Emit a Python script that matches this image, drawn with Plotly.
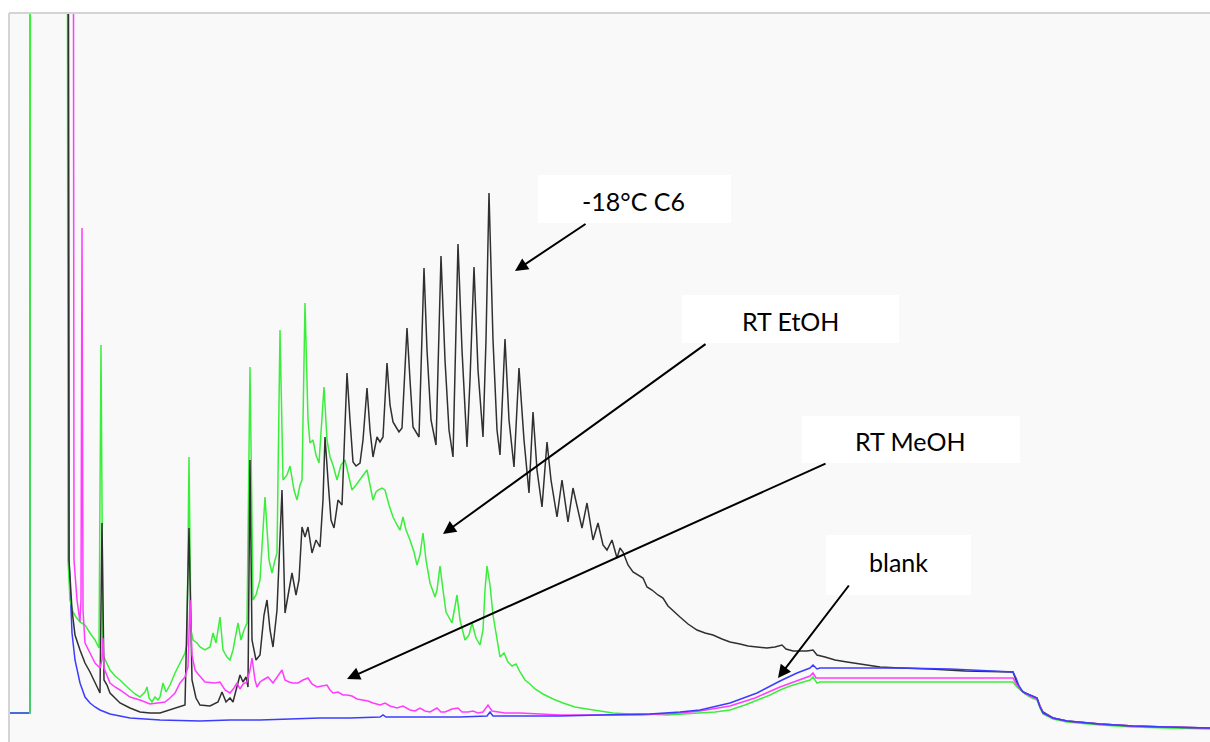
import plotly.graph_objects as go

# Chromatogram overlay: retention position (scan) vs detector response.
# Each series is a list of (scan, response) samples.
OFF_SCALE = 2400  # solvent front, far above the displayed range

sample_c6 = [
    (66, OFF_SCALE), (69, 182), (72, 132), (75, 107),
    (80, 92), (85, 79), (90, 70), (95, 59), (100, 49), (102, 219), (104, 62), (107, 57), (110, 49),
    (120, 39), (130, 34), (140, 30), (150, 29), (160, 29), (170, 32), (180, 35), (185, 37),
    (189, 214), (192, 62), (196, 44), (200, 37), (210, 36), (218, 40), (222, 50), (226, 40),
    (230, 44), (233, 40), (240, 67), (243, 60), (246, 65), (248, 55), (250, 282), (252, 102),
    (256, 82), (260, 87), (264, 127), (267, 142), (270, 112), (273, 95), (277, 132), (280, 202),
    (282, 252), (285, 129), (289, 152), (292, 169), (296, 147), (299, 162), (302, 215), (305, 205),
    (308, 215), (312, 189), (316, 202), (320, 195), (323, 242), (325, 305), (328, 262), (331, 222),
    (334, 214), (338, 242), (342, 237), (345, 312), (347, 369), (350, 322), (353, 280), (356, 276),
    (360, 279), (363, 302), (367, 354), (370, 312), (373, 285), (377, 305), (380, 300), (383, 305),
    (387, 379), (390, 337), (393, 320), (396, 315), (399, 310), (402, 314), (407, 414), (410, 362),
    (413, 315), (416, 310), (419, 305), (424, 474), (427, 392), (431, 322), (436, 297), (441, 486),
    (445, 382), (449, 312), (453, 285), (458, 498), (462, 392), (467, 295), (470, 362), (474, 475),
    (478, 372), (483, 305), (486, 402), (489, 549), (493, 402), (497, 312), (500, 287), (505, 403),
    (509, 322), (514, 275), (519, 374), (524, 302), (529, 249), (533, 330), (537, 272), (542, 235),
    (547, 300), (551, 262), (557, 225), (562, 262), (568, 220), (573, 254), (578, 232), (582, 214),
    (587, 239), (593, 202), (598, 219), (603, 197), (607, 192), (612, 202), (617, 184), (620, 194),
    (623, 190), (628, 177), (633, 170), (638, 167), (643, 164), (647, 155), (652, 152), (658, 147),
    (663, 144), (668, 136), (674, 130), (680, 125), (688, 118), (697, 112), (705, 109), (713, 107),
    (722, 103), (730, 100), (740, 98), (748, 96), (757, 95), (767, 94), (775, 95), (782, 97),
    (786, 93), (793, 91), (800, 91), (807, 91), (813, 92), (817, 87), (825, 85), (835, 82),
    (847, 80), (860, 78), (880, 75), (900, 74), (930, 73), (965, 71), (1000, 70), (1013, 70),
    (1017, 59), (1021, 52), (1025, 49), (1030, 47), (1037, 44), (1040, 36), (1043, 30), (1053, 24),
    (1067, 21), (1100, 18), (1133, 16), (1167, 15), (1210, 14),
]

rt_etoh = [
    (10, 29), (29, 29), (30, 29), (31, OFF_SCALE), (66, OFF_SCALE), (68, 182), (70, 142), (73, 130),
    (76, 125), (80, 120), (85, 117), (90, 109), (95, 102), (99, 94), (101, 397), (103, 87),
    (106, 80), (110, 72), (115, 66), (120, 62), (125, 57), (130, 52), (135, 48), (140, 45),
    (145, 50), (147, 55), (149, 44), (152, 40), (155, 45), (158, 42), (160, 45), (163, 59),
    (166, 50), (170, 57), (175, 69), (180, 79), (185, 89), (187, 97), (189, 285), (191, 112),
    (193, 102), (197, 99), (200, 95), (205, 92), (210, 95), (213, 109), (216, 99), (220, 125),
    (223, 92), (227, 85), (230, 82), (233, 92), (238, 119), (241, 102), (244, 112), (247, 119),
    (250, 375), (253, 142), (256, 147), (260, 162), (265, 245), (269, 182), (272, 169), (275, 182),
    (277, 189), (280, 412), (283, 262), (287, 267), (290, 276), (294, 252), (297, 242), (300, 257),
    (302, 262), (305, 439), (308, 322), (310, 299), (313, 302), (316, 287), (319, 279), (324, 355),
    (327, 302), (330, 285), (333, 277), (337, 262), (341, 277), (345, 282), (349, 264), (352, 252),
    (356, 257), (360, 262), (364, 268), (367, 272), (370, 257), (373, 242), (376, 250), (378, 252),
    (382, 254), (385, 252), (389, 237), (393, 225), (397, 217), (400, 212), (403, 225), (406, 212),
    (410, 202), (414, 190), (417, 177), (420, 187), (423, 209), (426, 182), (430, 159), (435, 145),
    (437, 152), (440, 176), (443, 152), (446, 130), (452, 119), (457, 147), (460, 122), (465, 102),
    (469, 107), (472, 119), (476, 104), (480, 97), (483, 112), (485, 152), (487, 176), (490, 157),
    (493, 127), (496, 107), (500, 85), (504, 89), (508, 80), (512, 76), (516, 78), (520, 70),
    (525, 62), (530, 58), (535, 53), (543, 48), (553, 43), (563, 39), (575, 35), (587, 33),
    (600, 31), (613, 29), (630, 28), (650, 28), (667, 27), (680, 28), (700, 29), (715, 30),
    (730, 32), (745, 37), (760, 43), (770, 47), (780, 52), (790, 56), (800, 59), (810, 62),
    (813, 65), (817, 59), (820, 60), (900, 60), (1000, 60), (1013, 60), (1017, 55), (1021, 51),
    (1025, 48), (1030, 45), (1037, 42), (1040, 34), (1043, 28), (1053, 23), (1067, 20), (1100, 17),
    (1133, 15), (1167, 14), (1210, 13),
]

rt_meoh = [
    (72, OFF_SCALE), (74, 182), (77, 142), (80, 120),
    (81, 142), (82, 514), (83, 132), (85, 99), (90, 89), (95, 79), (100, 74), (102, 82), (103, 104),
    (104, 74), (106, 69), (110, 59), (115, 55), (120, 52), (130, 45), (140, 42), (150, 38),
    (160, 39), (165, 40), (170, 44), (175, 49), (180, 59), (185, 65), (188, 75), (190, 142),
    (192, 87), (195, 72), (198, 68), (205, 60), (215, 59), (220, 60), (225, 52), (230, 49),
    (234, 54), (237, 59), (240, 53), (243, 58), (247, 60), (250, 72), (252, 84), (255, 62),
    (257, 55), (260, 60), (263, 62), (268, 65), (273, 59), (278, 66), (282, 72), (285, 62),
    (289, 60), (293, 59), (298, 59), (303, 62), (308, 64), (312, 58), (317, 55), (322, 56),
    (327, 57), (330, 52), (333, 49), (338, 50), (343, 47), (347, 47), (352, 46), (357, 43),
    (363, 42), (368, 41), (373, 39), (380, 37), (385, 39), (390, 36), (397, 34), (403, 36),
    (410, 32), (415, 31), (420, 34), (425, 31), (430, 30), (437, 34), (441, 30), (445, 30),
    (452, 33), (458, 34), (462, 30), (468, 30), (473, 31), (478, 29), (483, 30), (488, 37),
    (492, 31), (497, 30), (505, 29), (520, 29), (540, 28), (560, 27), (600, 27), (640, 27),
    (680, 29), (700, 31), (730, 36), (755, 44), (780, 55), (800, 62), (810, 66), (813, 69),
    (816, 64), (820, 64), (900, 64), (1000, 64), (1013, 64), (1017, 57), (1021, 52), (1025, 49),
    (1030, 46), (1037, 43), (1040, 35), (1043, 29), (1053, 24), (1067, 21), (1100, 18), (1133, 16),
    (1167, 15), (1210, 14),
]

# blank run: pre-injection baseline, solvent front, then the rest of the run
blank_base = [(10, 29), (29, 29)]
blank_front = [
    (29, 29), (30, 29), (31, OFF_SCALE), (67, OFF_SCALE), (69, 182), (72, 109), (75, 82),
    (78, 67), (80, 59),
]
blank = [
    (80, 59), (85, 45), (90, 39), (95, 35), (100, 32), (110, 28), (120, 26), (130, 24),
    (145, 23), (160, 22), (200, 21), (230, 22), (260, 22), (290, 23), (320, 24), (350, 24),
    (380, 25), (383, 27), (386, 25), (420, 25), (460, 25), (487, 26), (490, 30), (493, 26),
    (520, 26), (560, 26), (600, 27), (650, 28), (680, 30), (700, 32), (730, 39), (757, 49),
    (780, 61), (797, 69), (810, 74), (813, 77), (817, 73), (820, 74), (860, 74), (900, 74),
    (950, 73), (1000, 71), (1013, 70), (1016, 64), (1019, 56), (1023, 50), (1030, 47), (1037, 44),
    (1040, 35), (1043, 29), (1053, 24), (1067, 21), (1100, 18), (1133, 16), (1167, 15), (1210, 14),
]

BLUE = "#3c3cff"
# (name, samples, colour) in drawing order, bottom first
series = [
    ("blank", blank_front, BLUE),
    ("RT EtOH", rt_etoh, "#3cee3c"),
    ("blank", blank_base, BLUE),
    ("-18°C C6", sample_c6, "#303030"),
    ("RT MeOH", rt_meoh, "#ff3cff"),
    ("blank", blank, BLUE),
]

fig = go.Figure()
for name, samples, colour in series:
    xs = [p[0] for p in samples]
    ys = [p[1] for p in samples]
    fig.add_trace(go.Scatter(x=xs, y=ys, mode="lines", name=name,
                             line=dict(color=colour, width=1.5), hoverinfo="skip"))

# Label boxes: (text, x0, x1, y0, y1, text_x, text_y)
labels = [
    ("-18°C C6", 538, 731, 519, 567, 633, 541),
    ("RT EtOH", 682, 899, 399, 447, 790, 421),
    ("RT MeOH", 802, 1020, 279, 326, 910, 301),
    ("blank", 826, 971, 147, 207, 898, 180),
]
# Arrows: (tail_x, tail_y, tip_x, tip_y)
arrows = [
    (587, 519, 515, 471),
    (707, 399, 443, 208),
    (827, 279, 347, 63),
    (850, 158, 778, 64),
]

shapes = []
annotations = []
for text, x0, x1, y0, y1, tx, ty in labels:
    shapes.append(dict(type="rect", xref="x", yref="y", x0=x0, x1=x1, y0=y0, y1=y1,
                       fillcolor="white", line=dict(width=0), layer="above"))
    annotations.append(dict(x=tx, y=ty, xref="x", yref="y", text=text, showarrow=False,
                            font=dict(family="Lato", size=25, color="black"),
                            xanchor="center", yanchor="middle"))
for axx, ayy, tx, ty in arrows:
    annotations.append(dict(x=tx, y=ty, xref="x", yref="y", ax=axx, ay=ayy, axref="x", ayref="y",
                            text="", showarrow=True, arrowhead=2, arrowsize=1.3, arrowwidth=2,
                            arrowcolor="black", standoff=0, startstandoff=0))

# thin grey frame on the top and left of the plotting area
shapes.append(dict(type="line", xref="paper", yref="paper", x0=0, x1=1, y0=1, y1=1,
                   line=dict(color="#d4d4d4", width=2), layer="above"))
shapes.append(dict(type="line", xref="paper", yref="paper", x0=0, x1=0, y0=0, y1=1,
                   line=dict(color="#d4d4d4", width=2), layer="above"))

fig.update_layout(
    width=1210, height=742,
    margin=dict(l=9, r=0, t=13, b=0, pad=0),
    paper_bgcolor="white", plot_bgcolor="#f9f9f9",
    showlegend=False,
    xaxis=dict(range=[9, 1210], visible=False, fixedrange=True),
    yaxis=dict(range=[0, 729], visible=False, fixedrange=True),
    shapes=shapes, annotations=annotations,
)

fig.write_html("out.html", config={"displayModeBar": False})
